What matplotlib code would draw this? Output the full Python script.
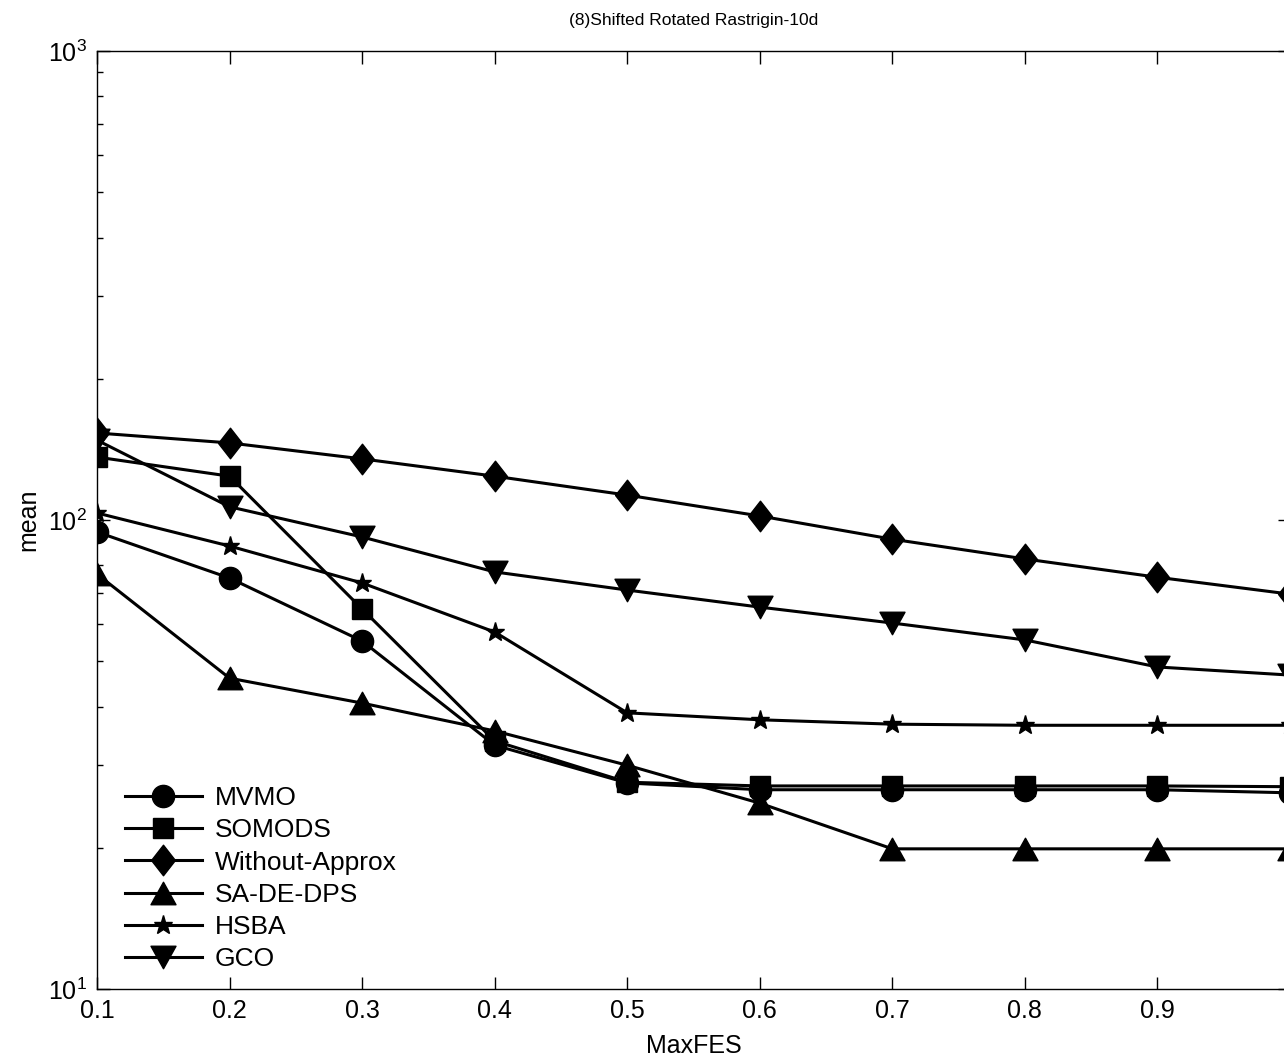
import numpy as np
import matplotlib
matplotlib.use('Agg')
from matplotlib import pyplot as plt
from matplotlib.path import Path

plt.rcParams['font.family'] = ['Liberation Sans', 'DejaVu Sans']
plt.rcParams['mathtext.fontset'] = 'custom'
plt.rcParams['mathtext.rm'] = 'Liberation Sans'
plt.rcParams['mathtext.it'] = 'Liberation Sans'

maxfes = [0.1, 0.2, 0.3, 0.4, 0.5, 0.6, 0.7, 0.8, 0.9, 1.0]
mvmo = [94.3, 75.2, 55.2, 33.1, 27.5, 26.6, 26.6, 26.6, 26.6, 26.2]
somods = [136.2, 124.0, 64.6, 33.8, 27.6, 27.1, 27.1, 27.1, 27.1, 27.0]
without_approx = [153.3, 146.0, 135.0, 124.0, 113.0, 102.0, 91.0, 82.6, 75.5, 69.5]
sa_de_dps = [76.7, 46.0, 40.7, 35.5, 30.0, 24.9, 19.9, 19.9, 19.9, 19.9]
hsba = [103.5, 88.0, 73.4, 57.7, 38.8, 37.5, 36.7, 36.5, 36.5, 36.5]
gco = [148.0, 106.7, 92.0, 77.5, 70.9, 65.2, 60.3, 55.5, 48.6, 46.7]

names = ['MVMO', 'SOMODS', 'Without-Approx', 'SA-DE-DPS', 'HSBA', 'GCO']
xticks = [0.1, 0.2, 0.3, 0.4, 0.5, 0.6, 0.7, 0.8, 0.9]

# matlab-like marker shapes
diamond = Path([(0, 1), (0.78, 0), (0, -1), (-0.78, 0), (0, 1)],
               [1, 2, 2, 2, 79])
tri_up = Path([(0, 0.9), (1, -0.9), (-1, -0.9), (0, 0.9)], [1, 2, 2, 79])
tri_down = Path([(0, -0.9), (1, 0.9), (-1, 0.9), (0, -0.9)], [1, 2, 2, 79])

series = [(mvmo, 'o', 16), (somods, 's', 14), (without_approx, diamond, 22),
          (sa_de_dps, tri_up, 18), (hsba, '*', 14), (gco, tri_down, 18)]

fig = plt.figure(figsize=(12.84, 10.6), dpi=100)
ax = fig.add_axes([97 / 1284, (1060 - 989) / 1060, 1193 / 1284, 938 / 1060])

for (vals, mk, ms), name in zip(series, names):
    ax.plot(maxfes, vals, color='k', linewidth=2.2, marker=mk, markersize=ms,
            markerfacecolor='k', markeredgecolor='k', label=name)

ax.set_yscale('log')
ax.set_xlim(0.1, 1.0)
ax.set_ylim(10, 1000)
ax.set_xticks(xticks)
ax.set_xticklabels([str(t) for t in xticks])
ax.tick_params(which='major', direction='in', length=9, width=1,
               top=True, right=True, labelsize=18, pad=7)
ax.tick_params(which='minor', direction='in', length=4.5, width=1,
               top=True, right=True)
for s in ax.spines.values():
    s.set_linewidth(1)

ax.set_title('(8)Shifted Rotated Rastrigin-10d', fontsize=12.5, pad=19)
ax.set_xlabel('MaxFES', fontsize=18, labelpad=8)
ax.set_ylabel('mean', fontsize=18, labelpad=6)

ax.legend(loc='lower left', bbox_to_anchor=(0.0235, 0.019), frameon=False,
          fontsize=19, handlelength=2.9, handletextpad=0.5, labelspacing=0.31,
          borderpad=0, borderaxespad=0, numpoints=1)

fig.savefig('out.png', dpi=100)
